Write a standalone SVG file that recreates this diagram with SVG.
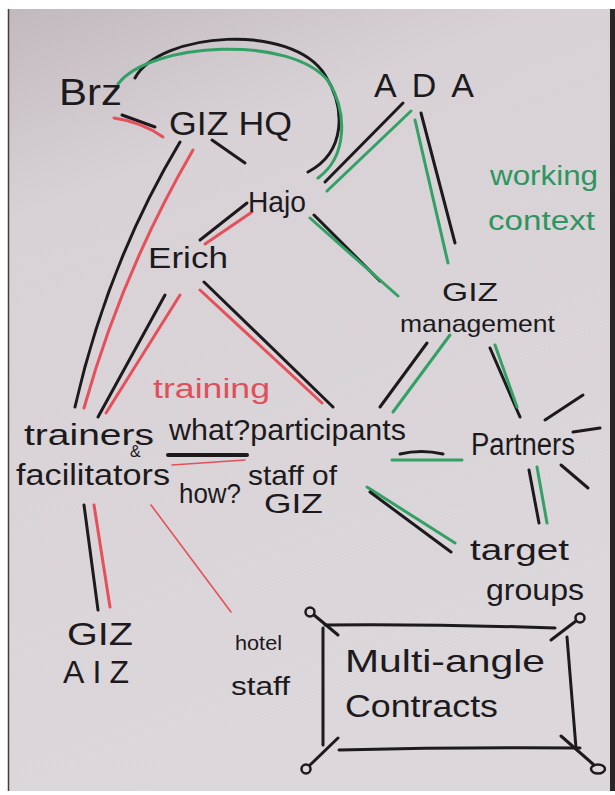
<svg xmlns="http://www.w3.org/2000/svg" width="615" height="795" viewBox="0 0 615 795">
<style>
  text { font-family: "Liberation Sans", "DejaVu Sans", sans-serif; fill: #1c1a1c; }
  .g { fill: #2f9560; }
  .r { fill: #e0505a; }
  .k { stroke: #1c1a1c; stroke-width: 3; fill: none; stroke-linecap: round; }
  .gr { stroke: #33a066; stroke-width: 3; fill: none; stroke-linecap: round; }
  .rd { stroke: #e5505a; stroke-width: 3; fill: none; stroke-linecap: round; }
  .thin { stroke-width: 1.6; }
</style>
<defs>
  <linearGradient id="paper" x1="0" y1="0" x2="0.3" y2="1">
    <stop offset="0" stop-color="#c2b9bf"/>
    <stop offset="0.25" stop-color="#d8d2d6"/>
    <stop offset="1" stop-color="#dcd7da"/>
  </linearGradient>
</defs>
<rect x="0" y="0" width="615" height="795" fill="#ffffff"/>
<rect x="8" y="9" width="602" height="782" fill="url(#paper)"/>
<line x1="8.5" y1="9" x2="8.5" y2="791" stroke="#4a3a40" stroke-width="1.5"/>
<rect x="610" y="9" width="5" height="782" fill="#2a2628"/>

<g id="connectors">
  <path class="k" d="M135,78 C160,32 292,22 325,75 C346,108 346,152 308,172"/>
  <path class="gr" d="M118,84 C150,42 292,34 329,82 C347,112 348,156 318,178"/>
  <path class="k" d="M122,115 L155,127"/>
  <path class="rd" d="M114,118 Q142,122 163,137"/>
  <path class="k" d="M212,140 L245,163"/>
  <path class="k" d="M180,142 Q108,262 75,407"/>
  <path class="rd" d="M193,150 Q122,272 84,408"/>
  <path class="k" d="M325,182 L403,103"/>
  <path class="gr" d="M327,191 L411,111"/>
  <path class="k" d="M421,113 L455,243"/>
  <path class="gr" d="M415,120 L448,263"/>
  <path class="k" d="M314,215 L380,281"/>
  <path class="gr" d="M310,218 L398,296"/>
  <path class="k" d="M200,240 L247,203"/>
  <path class="rd" d="M205,244 L252,212"/>
  <path class="k" d="M165,295 L98,417"/>
  <path class="rd" d="M180,295 L106,413"/>
  <path class="rd" d="M200,290 L322,403"/>
  <path class="k" d="M204,282 L333,407"/>
  <path class="k" d="M427,343 L380,407"/>
  <path class="gr" d="M450,335 L393,412"/>
  <path class="k" d="M490,348 L520,417"/>
  <path class="gr" d="M495,345 L517,407"/>
  <path class="k" d="M545,420 L583,395"/>
  <path class="k" d="M573,432 L600,428"/>
  <path class="k" d="M561,465 L588,488"/>
  <path class="k" d="M400,454 Q421,449 443,454"/>
  <path class="gr" d="M392,460 L462,460"/>
  <path class="k" d="M529,470 L539,523"/>
  <path class="gr" d="M537,467 L547,523"/>
  <path class="gr" d="M367,487 L455,543"/>
  <path class="k" d="M370,492 L451,552"/>
  <path class="k" d="M168,455 L247,455" style="stroke-width:4"/>
  <path class="rd thin" d="M172,465 L245,460"/>
  <path class="k" d="M84,505 L98,610"/>
  <path class="rd" d="M94,505 L110,607"/>
  <path class="rd thin" d="M151,505 L231,612"/>
</g>

<g id="node-brz"><text x="59" y="105" font-size="36" textLength="63" lengthAdjust="spacingAndGlyphs">Brz</text></g>
<g id="node-gizhq"><text x="169" y="135" font-size="33" textLength="123" lengthAdjust="spacingAndGlyphs">GIZ HQ</text></g>
<g id="node-ada"><text x="374" y="97" font-size="34" textLength="100" lengthAdjust="spacing">ADA</text></g>
<g id="label-working-context">
  <text class="g" x="490" y="185" font-size="27" textLength="108" lengthAdjust="spacingAndGlyphs">working</text>
  <text class="g" x="488" y="230" font-size="27" textLength="107" lengthAdjust="spacingAndGlyphs">context</text>
</g>
<g id="node-hajo"><text x="248" y="212" font-size="30" textLength="58" lengthAdjust="spacingAndGlyphs">Hajo</text></g>
<g id="node-erich"><text x="148" y="268" font-size="30" textLength="80" lengthAdjust="spacingAndGlyphs">Erich</text></g>
<g id="node-giz-management">
  <text x="442" y="301" font-size="26" textLength="56" lengthAdjust="spacingAndGlyphs">GIZ</text>
  <text x="400" y="332" font-size="24" textLength="155" lengthAdjust="spacingAndGlyphs">management</text>
</g>
<g id="label-training"><text class="r" x="153" y="398" font-size="27" textLength="117" lengthAdjust="spacingAndGlyphs">training</text></g>
<g id="node-trainers">
  <text x="24" y="445" font-size="30" textLength="130" lengthAdjust="spacingAndGlyphs">trainers</text>
  <text x="130" y="457" font-size="16">&amp;</text>
  <text x="16" y="485" font-size="29" textLength="154" lengthAdjust="spacingAndGlyphs">facilitators</text>
</g>
<g id="node-participants">
  <text x="169" y="440" font-size="30" textLength="237" lengthAdjust="spacingAndGlyphs">what?participants</text>
  <text x="179" y="503" font-size="28" textLength="62" lengthAdjust="spacingAndGlyphs">how?</text>
  <text x="248" y="485" font-size="28" textLength="89" lengthAdjust="spacingAndGlyphs">staff of</text>
  <text x="264" y="513" font-size="28" textLength="59" lengthAdjust="spacingAndGlyphs">GIZ</text>
</g>
<g id="node-partners"><text x="471" y="455" font-size="31" textLength="104" lengthAdjust="spacingAndGlyphs">Partners</text></g>
<g id="node-target-groups">
  <text x="470" y="560" font-size="30" textLength="99" lengthAdjust="spacingAndGlyphs">target</text>
  <text x="486" y="600" font-size="30" textLength="98" lengthAdjust="spacingAndGlyphs">groups</text>
</g>
<g id="node-giz-aiz">
  <text x="67" y="645" font-size="32" textLength="66" lengthAdjust="spacingAndGlyphs">GIZ</text>
  <text x="63" y="683" font-size="32" textLength="66" lengthAdjust="spacing">AIZ</text>
</g>
<g id="node-hotel-staff">
  <text x="235" y="650" font-size="20" textLength="47" lengthAdjust="spacingAndGlyphs">hotel</text>
  <text x="231" y="695" font-size="25" textLength="59" lengthAdjust="spacingAndGlyphs">staff</text>
</g>
<g id="node-contracts">
  <path class="k" d="M325,625 Q440,624 555,628"/>
  <path class="k" d="M323,628 L323,745"/>
  <path class="k" d="M339,750 Q460,747 580,748"/>
  <path class="k" d="M567,637 Q572,700 576,748"/>
  <path class="k" d="M314,615 L338,635"/>
  <path class="k" d="M576,621 L551,640"/>
  <path class="k" d="M310,765 L338,738"/>
  <path class="k" d="M594,765 L561,736"/>
  <circle cx="310" cy="612" r="4.5" fill="none" stroke="#1c1a1c" stroke-width="2.5"/>
  <circle cx="580" cy="618" r="4.5" fill="none" stroke="#1c1a1c" stroke-width="2.5"/>
  <circle cx="306" cy="769" r="4.5" fill="none" stroke="#1c1a1c" stroke-width="2.5"/>
  <ellipse cx="598" cy="769" rx="7" ry="4.5" fill="none" stroke="#1c1a1c" stroke-width="2.5"/>
  <text x="345" y="672" font-size="32" textLength="200" lengthAdjust="spacingAndGlyphs">Multi-angle</text>
  <text x="345" y="717" font-size="31" textLength="153" lengthAdjust="spacingAndGlyphs">Contracts</text>
</g>
</svg>
